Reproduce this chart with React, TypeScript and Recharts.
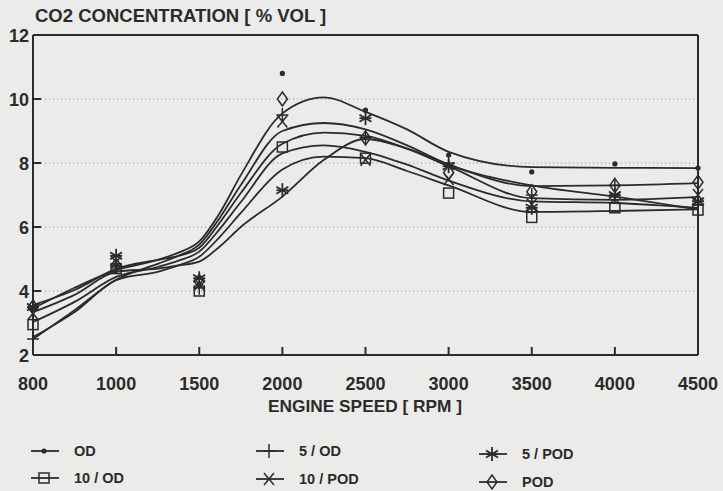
import React from 'react';
import { ComposedChart, Line, Scatter, XAxis, YAxis, CartesianGrid, ReferenceLine } from 'recharts';

// engine speed categories (equally spaced on the axis)
const speedLabels = ['800', '1000', '1500', '2000', '2500', '3000', '3500', '4000', '4500'];
const yTicks = [2, 4, 6, 8, 10, 12];

// measured points, one per speed
const odPts = [3.4, 4.8, 4.2, 10.8, 9.65, 8.25, 7.72, 7.97, 7.84];
const od10Pts = [2.95, 4.7, 4.0, 8.5, 8.15, 7.06, 6.3, 6.6, 6.53];
const od5Pts = [2.5, 4.8, 4.1, 9.5, 8.8, 8.0, 7.0, 7.3, 6.7];
const pod10Pts = [3.3, 4.9, 4.2, 9.3, 8.1, 7.5, 6.7, 6.9, 7.0];
const pod5Pts = [3.5, 5.1, 4.4, 7.15, 9.4, 7.9, 6.6, 7.0, 6.8];
const podPts = [3.5, 4.8, 4.3, 10.0, 8.78, 7.7, 7.1, 7.3, 7.4];

// fitted curves, read at axis positions (fractions read between the labelled speeds)
const curvePos = [0, 0.5, 1, 1.5, 1.75, 2, 2.25, 2.5, 3, 3.5, 4, 4.5, 5, 6, 7, 8];
const odCurve = [3.45, 4.1, 4.65, 4.97, 5.2, 5.55, 6.45, 7.62, 9.55, 10.05, 9.6, 9.05, 8.35, 7.87, 7.85, 7.84];
const od5Curve = [2.5, 3.4, 4.35, 4.85, 5.1, 5.45, 6.3, 7.31, 9.0, 9.25, 9.05, 8.55, 7.95, 7.3, 6.95, 6.55];
const pod10Curve = [3.56, 4.03, 4.69, 4.97, 5.1, 5.35, 6.15, 7.06, 8.6, 8.95, 8.85, 8.45, 7.9, 6.9, 6.85, 6.94];
const od10Curve = [3.03, 3.66, 4.44, 4.75, 4.95, 5.23, 5.95, 6.78, 8.3, 8.55, 8.35, 7.95, 7.45, 6.8, 6.75, 6.6];
const pod5Curve = [2.56, 3.34, 4.34, 4.6, 4.8, 5.07, 5.7, 6.44, 7.8, 8.2, 8.15, 7.75, 7.3, 6.47, 6.5, 6.55];
const podCurve = [3.34, 3.88, 4.6, 4.7, 4.8, 4.92, 5.4, 6.0, 6.95, 8.1, 8.75, 8.45, 7.95, 7.28, 7.3, 7.37];

const INK = '#2b2b2b';
const FONT = '"Liberation Sans", Arial, sans-serif';

type MarkKind = 'dot' | 'square' | 'plus' | 'cross' | 'star' | 'diamond';

function Mark({ kind, cx, cy }: { kind: MarkKind; cx: number; cy: number }) {
    const p = { stroke: INK, strokeWidth: 1.5, fill: 'none' };
    switch (kind) {
        case 'dot':
            return <circle cx={cx} cy={cy} r={2.6} fill={INK} />;
        case 'square':
            return <rect x={cx - 5} y={cy - 5} width={10} height={10} {...p} />;
        case 'plus':
            return (
                <g {...p}>
                    <line x1={cx - 6} x2={cx + 6} y1={cy} y2={cy} />
                    <line x1={cx} x2={cx} y1={cy - 7} y2={cy + 7} />
                </g>
            );
        case 'cross':
            return (
                <g {...p}>
                    <line x1={cx - 5} x2={cx + 5} y1={cy - 6} y2={cy + 6} />
                    <line x1={cx + 5} x2={cx - 5} y1={cy - 6} y2={cy + 6} />
                </g>
            );
        case 'star':
            return (
                <g {...p} strokeWidth={1.8}>
                    <line x1={cx} x2={cx} y1={cy - 7} y2={cy + 7} />
                    <line x1={cx - 6} x2={cx + 6} y1={cy - 3.5} y2={cy + 3.5} />
                    <line x1={cx - 6} x2={cx + 6} y1={cy + 3.5} y2={cy - 3.5} />
                    <line x1={cx - 6} x2={cx + 6} y1={cy} y2={cy} />
                </g>
            );
        default:
            return <polygon points={`${cx},${cy - 7} ${cx + 5},${cy} ${cx},${cy + 7} ${cx - 5},${cy}`} {...p} />;
    }
}

const series: { name: string; kind: MarkKind; pts: number[]; curve: number[] }[] = [
    { name: 'OD', kind: 'dot', pts: odPts, curve: odCurve },
    { name: '10 / OD', kind: 'square', pts: od10Pts, curve: od10Curve },
    { name: '5 / OD', kind: 'plus', pts: od5Pts, curve: od5Curve },
    { name: '10 / POD', kind: 'cross', pts: pod10Pts, curve: pod10Curve },
    { name: '5 / POD', kind: 'star', pts: pod5Pts, curve: pod5Curve },
    { name: 'POD', kind: 'diamond', pts: podPts, curve: podCurve },
];

const XTick = ({ x, y, payload }: any) => {
    const i = payload.value as number;
    return (
        <g>
            {i > 0 && i < 8 && <line x1={x} x2={x} y1={y} y2={y - 8} stroke={INK} strokeWidth={2} />}
            <text x={x} y={y + 35} textAnchor="middle" fontFamily={FONT} fontWeight="bold" fontSize={18} fill={INK}>
                {speedLabels[i]}
            </text>
        </g>
    );
};

const YTick = ({ x, y, payload }: any) => {
    const v = payload.value as number;
    return (
        <g>
            {v > 2 && v < 12 && <line x1={x} x2={x + 8} y1={y} y2={y} stroke={INK} strokeWidth={2} />}
            <text x={x - 4} y={y + 7} textAnchor="end" fontFamily={FONT} fontWeight="bold" fontSize={18} fill={INK}>
                {v}
            </text>
        </g>
    );
};

// legend layout: [column x, row y] per series
const legendPos: [number, number][] = [
    [30, 451], [30, 478], [255, 451], [255, 479], [478, 454], [478, 482],
];

export default function App() {
    return (
        <div style={{ position: 'absolute', left: 0, top: 0, width: 723, height: 491, background: '#ebebe9', overflow: 'hidden', fontFamily: FONT }}>
            <div style={{ position: 'absolute', left: 35, top: 5, fontSize: 18.5, fontWeight: 'bold', color: INK, whiteSpace: 'nowrap' }}>
                CO2 CONCENTRATION [ % VOL ]
            </div>
            <ComposedChart width={723} height={491} margin={{ top: 35, right: 25, left: 0, bottom: 76 }}>
                <CartesianGrid vertical={false} stroke="#8a8a8a" strokeDasharray="1 3" />
                <XAxis
                    dataKey="x"
                    type="number"
                    domain={[0, 8]}
                    ticks={[0, 1, 2, 3, 4, 5, 6, 7, 8]}
                    height={60}
                    tickSize={0}
                    tickMargin={0}
                    tickLine={false}
                    axisLine={{ stroke: INK, strokeWidth: 2 }}
                    tick={(p: any) => <XTick {...p} />}
                />
                <YAxis
                    type="number"
                    domain={[2, 12]}
                    ticks={yTicks}
                    width={33}
                    tickSize={0}
                    tickMargin={0}
                    tickLine={false}
                    axisLine={{ stroke: INK, strokeWidth: 2 }}
                    tick={(p: any) => <YTick {...p} />}
                />
                <ReferenceLine y={12} stroke={INK} strokeWidth={2} />
                <ReferenceLine x={8} stroke={INK} strokeWidth={2} />
                {series.map((s) => (
                    <Line
                        key={`c-${s.name}`}
                        data={curvePos.map((x, i) => ({ x, y: s.curve[i] }))}
                        dataKey="y"
                        type="monotone"
                        stroke={INK}
                        strokeWidth={1.8}
                        dot={false}
                        activeDot={false}
                        isAnimationActive={false}
                    />
                ))}
                {series.map((s) => (
                    <Scatter
                        key={`p-${s.name}`}
                        data={speedLabels.map((_, i) => ({ x: i, y: s.pts[i] }))}
                        dataKey="y"
                        isAnimationActive={false}
                        shape={(p: any) => <Mark kind={s.kind} cx={p.cx} cy={p.cy} />}
                    />
                ))}
            </ComposedChart>
            <div style={{ position: 'absolute', left: 0, width: 730, top: 396, textAlign: 'center', fontSize: 17.3, fontWeight: 'bold', color: INK }}>
                ENGINE SPEED [ RPM ]
            </div>
            {series.map((s, i) => {
                const [lx, ly] = legendPos[i];
                return (
                    <div key={`l-${s.name}`} style={{ position: 'absolute', left: lx, top: ly - 10, height: 20, display: 'flex', alignItems: 'center' }}>
                        <svg width={30} height={20}>
                            <line x1={1} x2={29} y1={10} y2={10} stroke={INK} strokeWidth={1.8} />
                            <Mark kind={s.kind} cx={14} cy={10} />
                        </svg>
                        <span style={{ marginLeft: 14, fontSize: 14.5, fontWeight: 'bold', color: INK }}>{s.name}</span>
                    </div>
                );
            })}
        </div>
    );
}
